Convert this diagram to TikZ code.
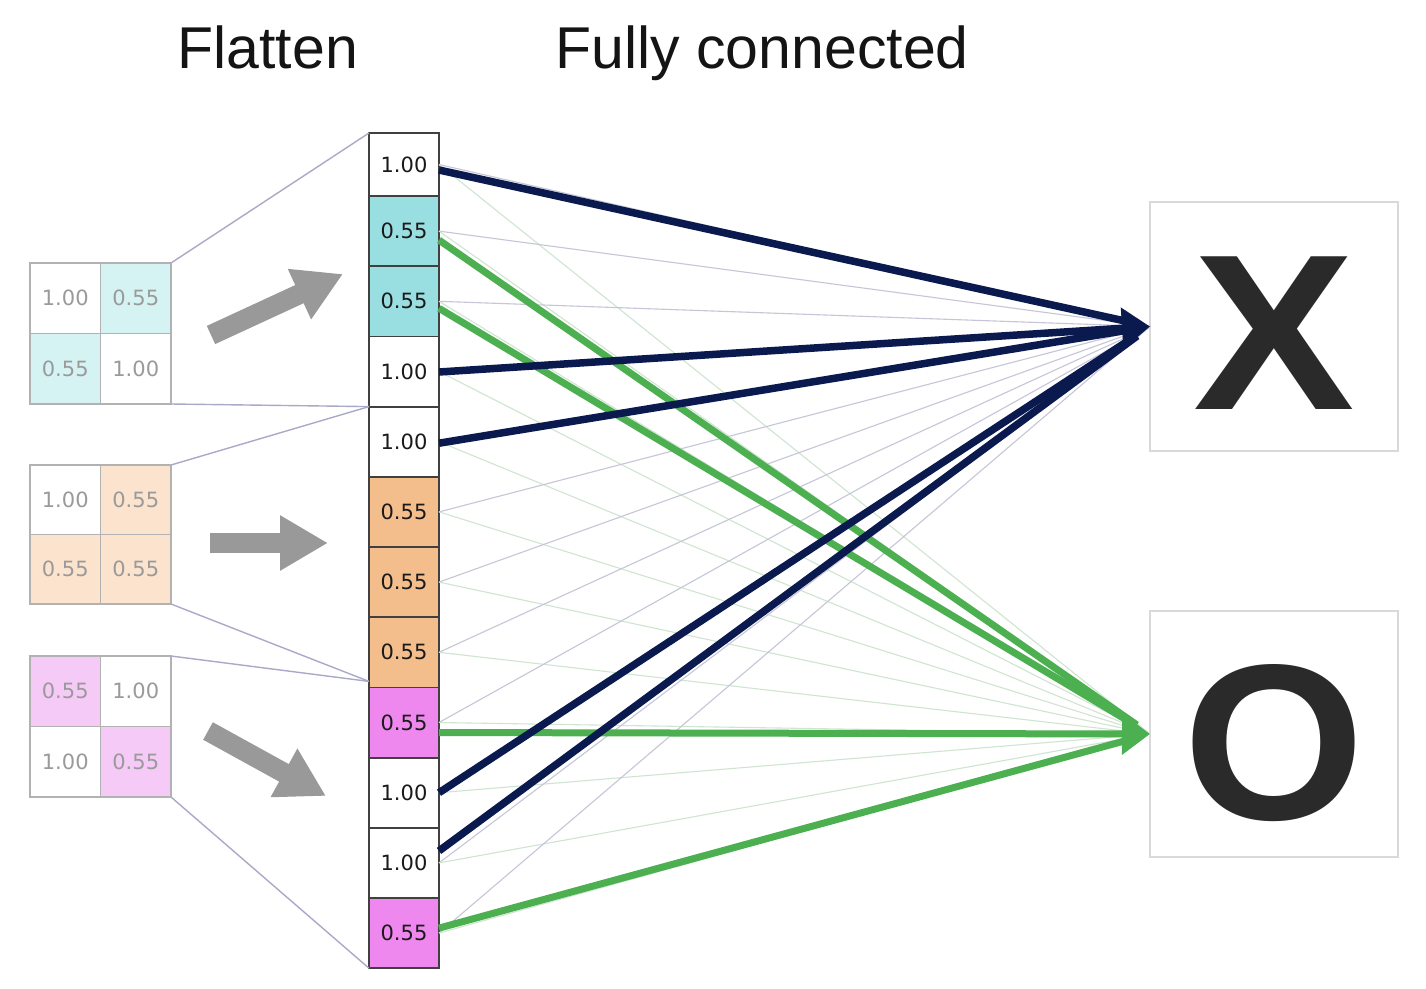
\documentclass[tikz,border=0pt]{standalone}
\usepackage{fontspec}
\usepackage{graphicx}
\setmainfont{Liberation Sans}
\newfontfamily\cellfont{DejaVu Sans}
\usetikzlibrary{arrows.meta,calc}
\definecolor{navy}{HTML}{0B1A4E}
\definecolor{fcgreen}{HTML}{4CAF50}
\definecolor{cyanA}{HTML}{99DEE0}
\definecolor{cyanB}{HTML}{D6F3F4}
\definecolor{orA}{HTML}{F4BE8C}
\definecolor{orB}{HTML}{FBE3CD}
\definecolor{mgA}{HTML}{EE88EE}
\definecolor{mgB}{HTML}{F6CAF6}
\definecolor{thinX}{HTML}{C6C6D8}
\definecolor{thinO}{HTML}{CFE5D0}
\definecolor{proj}{HTML}{A9A9C9}
\definecolor{blockgray}{HTML}{999999}
\definecolor{txtdark}{HTML}{1A1A1A}
\definecolor{txtgray}{HTML}{9A9A9A}
\definecolor{letter}{HTML}{2A2A2A}
\begin{document}
\begin{tikzpicture}[x=1pt,y=-1pt,
  colcell/.style={draw=black!75, line width=1.8pt, minimum width=70pt, minimum height=70.2pt,
    inner sep=0pt, outer sep=0pt, anchor=north west, font=\cellfont\fontsize{21}{21}\selectfont, text=txtdark},
  gridcell/.style={draw=black!30, line width=1.5pt, minimum width=70.5pt, minimum height=70.5pt,
    inner sep=0pt, outer sep=0pt, anchor=north west, font=\cellfont\fontsize{21}{21}\selectfont, text=txtgray},
  title/.style={anchor=base west, font=\fontsize{59}{59}\selectfont, text=black!92},
  outbox/.style={draw=black!15, line width=1.5pt, minimum width=248pt, minimum height=249pt,
    inner sep=0pt, outer sep=0pt, anchor=north west},
  bigletter/.style={inner sep=0pt, font=\bfseries\fontsize{222}{222}\selectfont, text=letter},
  projline/.style={draw=proj, line width=1.4pt},
  blockarrow/.style={draw=blockgray, line width=20pt, -{Triangle[length=48pt,width=52pt]}},
  thinxline/.style={draw=thinX, line width=1.1pt},
  thinoline/.style={draw=thinO, line width=1.1pt},
  bluewire/.style={draw=navy, line width=7.5pt},
  greenwire/.style={draw=fcgreen, line width=7pt},
  wirehead/.style={-{Triangle[length=28pt,width=40pt]}},
  hidden/.style={shorten >=16pt}
]
\useasboundingbox (0,0) rectangle (1426,988);
\fill[white] (0,0) rectangle (1426,988);

% titles
\node[title] (tflat) at (174,68) {Flatten};
\node[title] (tfc) at (552,68) {Fully connected};

% column
\node[colcell, minimum height=63pt, fill=white] (c1) at (369,133) {1.00};
\foreach \i/\v/\c in {2/0.55/cyanA,3/0.55/cyanA,4/1.00/white,5/1.00/white,6/0.55/orA,7/0.55/orA,8/0.55/orA,9/0.55/mgA,10/1.00/white,11/1.00/white,12/0.55/mgA}{
  \node[colcell, fill=\c] (c\i) at (369,{196+70.2*(\i-2)}) {\v};
}

% small grids
\node[gridcell, fill=white] (gA11) at (30,263) {1.00};
\node[gridcell, fill=cyanB] (gA12) at (100.5,263) {0.55};
\node[gridcell, fill=cyanB] (gA21) at (30,333.5) {0.55};
\node[gridcell, fill=white] (gA22) at (100.5,333.5) {1.00};

\node[gridcell, fill=white, minimum height=69.5pt] (gB11) at (30,465) {1.00};
\node[gridcell, fill=orB, minimum height=69.5pt] (gB12) at (100.5,465) {0.55};
\node[gridcell, fill=orB, minimum height=69.5pt] (gB21) at (30,534.5) {0.55};
\node[gridcell, fill=orB, minimum height=69.5pt] (gB22) at (100.5,534.5) {0.55};

\node[gridcell, fill=mgB] (gC11) at (30,656) {0.55};
\node[gridcell, fill=white] (gC12) at (100.5,656) {1.00};
\node[gridcell, fill=white] (gC21) at (30,726.5) {1.00};
\node[gridcell, fill=mgB] (gC22) at (100.5,726.5) {0.55};

% projection lines
\draw[projline] (gA12.north east) -- (c1.north west);
\draw[projline] (gA22.south east) -- (c4.south west);
\draw[projline] (gB12.north east) -- (c5.north west);
\draw[projline] (gB22.south east) -- ($(c9.north west)+(0,-6)$);
\draw[projline] (gC12.north east) -- ($(c9.north west)+(0,-6)$);
\draw[projline] (gC22.south east) -- (c12.south west);

% gray block arrows
\coordinate (a1s) at (211,335);
\coordinate (a1e) at (343,274);
\coordinate (a2s) at (210,543);
\coordinate (a2e) at (328,543);
\coordinate (a3s) at (208,731);
\coordinate (a3e) at (326,796);
\draw[blockarrow] (a1s) -- (a1e);
\draw[blockarrow] (a2s) -- (a2e);
\draw[blockarrow] (a3s) -- (a3e);

% output boxes
\node[outbox] (xbox) at (1150,202) {};
\node[outbox, minimum height=246pt] (obox) at (1150,611) {};
\node[bigletter] (xl) at ($(xbox.center)+(0,7)$) {\scalebox{1.09}[1]{X}};
\node[bigletter] (ol) at ($(obox.center)+(0,9)$) {\scalebox{1.05}[1]{O}};

% thin fully-connected lines
\foreach \i in {1,...,12}{
  \draw[thinxline] (c\i.east) -- (xbox.west);
  \draw[thinoline] (c\i.east) -- (obox.west);
}

% thick green
\draw[greenwire, hidden] ($(c2.east)+(0,9)$) -- (obox.west);
\draw[greenwire, hidden] ($(c3.east)+(0,7)$) -- (obox.west);
\draw[greenwire, hidden] ($(c12.east)+(0,-5)$) -- (obox.west);
\draw[greenwire, wirehead] ($(c9.east)+(0,10)$) -- (obox.west);

% thick blue
\draw[bluewire, hidden] ($(c1.east)+(0,5.5)$) -- (xbox.west);
\draw[bluewire, hidden] ($(c5.east)+(0,1.5)$) -- (xbox.west);
\draw[bluewire, hidden] (c10.east) -- (xbox.west);
\draw[bluewire, hidden] ($(c11.east)+(0,-12)$) -- (xbox.west);
\draw[bluewire, wirehead] ($(c4.east)+(0,0.5)$) -- (xbox.west);
\end{tikzpicture}
\end{document}
